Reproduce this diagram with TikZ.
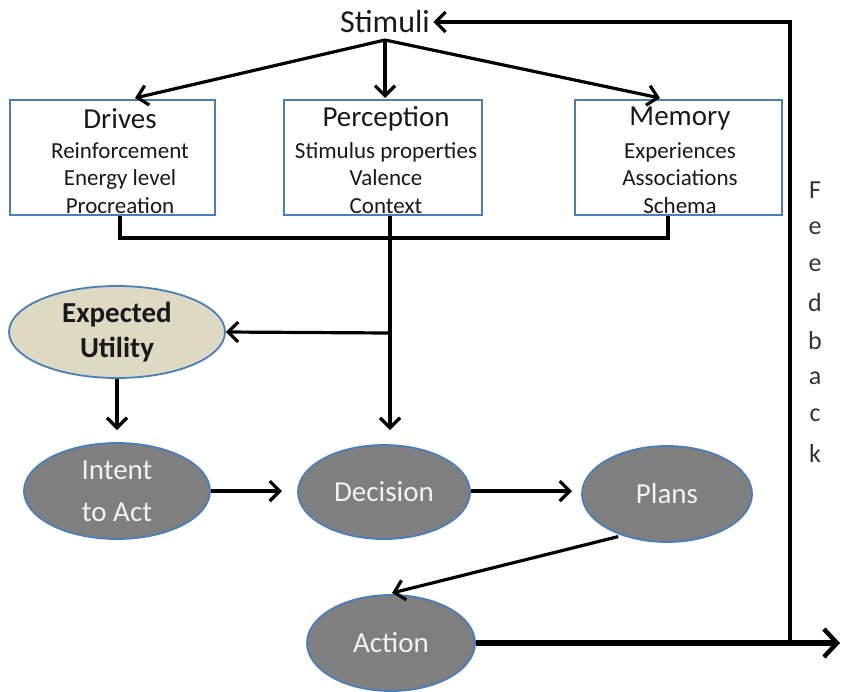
\documentclass[tikz,border=0pt]{standalone}
\usepackage{fontspec}
\setmainfont{Carlito}
\usetikzlibrary{arrows.meta,shapes.geometric}
\definecolor{boxblue}{HTML}{4A7EBB}
\definecolor{ellgray}{HTML}{7F7F7F}
\definecolor{elltan}{HTML}{DDD9C3}
\definecolor{lighttext}{HTML}{F2F2F2}
\tikzset{
  conn/.style={line width=3.2pt, -{Straight Barb[length=10pt,width=20pt,line width=3.2pt]}},
  line/.style={line width=3.2pt},
  infobox/.style={draw=boxblue, line width=2.2pt, minimum width=#1, minimum height=115pt, inner sep=0pt},
  boxtitle/.style={font=\fontsize{29}{30}\selectfont, text=black!90, inner sep=0pt},
  boxbody/.style={font=\fontsize{23}{27.5}\selectfont, text=black!90, align=center, inner sep=0pt},
  grayell/.style={ellipse, draw=boxblue, line width=1.8pt, fill=ellgray, text=lighttext, align=center, font=\fontsize{29}{42}\selectfont, inner sep=0pt},
  tanell/.style={ellipse, draw=boxblue, line width=1.8pt, fill=elltan, text=black!90, align=center, font=\fontsize{29}{35}\selectfont\bfseries, inner sep=0pt},
}
\begin{document}
\begin{tikzpicture}[x=1pt,y=-1pt]
\useasboundingbox (0,0) rectangle (845,691);
\node[font=\fontsize{32}{32}\selectfont, text=black!90] (stim) at (385,22) {Stimuli};
\node[infobox=205pt] (drives) at (112.5,157.5) {};
\node[infobox=198pt] (perc) at (383,157.5) {};
\node[infobox=207pt] (mem) at (678.5,157.5) {};
\node[boxtitle] (drivesT) at (120,119) {Drives};
\node[boxbody] (drivesB) at (120,178) {Reinforcement\\Energy level\\Procreation};
\node[boxtitle] (percT) at (386,119) {Perception};
\node[boxbody] (percB) at (386,178) {Stimulus properties\\Valence\\Context};
\node[boxtitle] (memT) at (680,119) {Memory};
\node[boxbody] (memB) at (680,178) {Experiences\\Associations\\Schema};

\node[tanell, minimum width=216pt, minimum height=92pt] (eu) at (117,332) {Expected\\Utility};
\node[grayell, minimum width=186pt, minimum height=96pt] (intent) at (117,491) {Intent\\to Act};
\node[grayell, minimum width=172pt, minimum height=94pt] (dec) at (384,492) {Decision};
\node[grayell, minimum width=170pt, minimum height=96pt] (plans) at (667,494) {Plans};
\node[grayell, minimum width=168pt, minimum height=96pt] (act) at (391,643) {Action};

\coordinate (s0) at (385,40);
\draw[conn] (s0) -- (135,98);
\draw[conn] (s0) -- (385,98);
\draw[conn] (s0) -- (660,98);

\coordinate (jl) at (120,238);
\coordinate (jm) at (390,238);
\coordinate (jr) at (668,238);
\coordinate (br) at (390,333);
\coordinate (decin) at (390,430);
\coordinate (euout) at (117,430);
\coordinate (intout) at (282,491);
\coordinate (decout) at (572,491);
\coordinate (actin) at (392,593);
\draw[line] (drives.south -| jl) -- (jl) -- (jr) -- (mem.south -| jr);
\draw[line] (perc.south -| jm) -- (jm);
\draw[conn] (jm) -- (decin);
\draw[conn] (br) -- (eu.east);
\draw[conn] (eu.south) -- (euout);
\draw[conn] (intent.east) -- (intout);
\draw[conn] (dec.east |- decout) -- (decout);
\draw[conn] (plans.south west) ++(12,8) -- (actin);
\draw[line width=5.5pt, -{Straight Barb[length=13pt,width=28pt,line width=4.5pt]}] (act.east) -- (840,643);
\coordinate (fb) at (790,643);
\coordinate (fbt) at (790,22);
\draw[conn] (fb) -- (fbt) -- (stim.east);

\foreach \l [count=\i] in {F,e,e,d,b,a,c,k}
  \node[font=\fontsize{26}{26}\selectfont, text=black!80] (fl\i) at (815, 153+37.5*\i) {\l};
\end{tikzpicture}
\end{document}
